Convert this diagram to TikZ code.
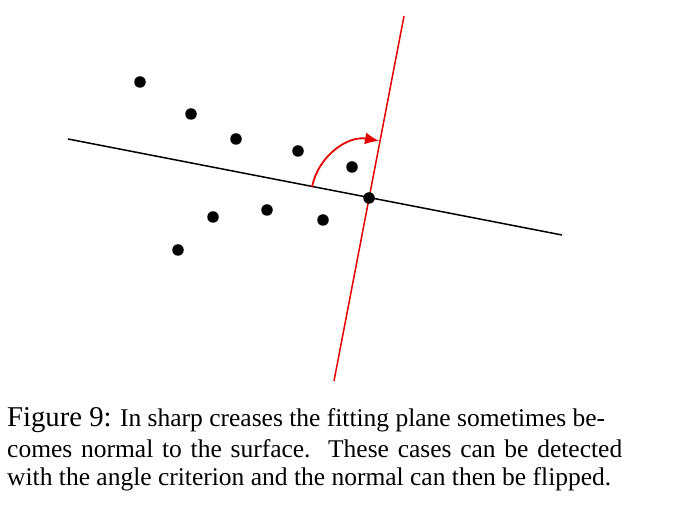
\documentclass[tikz,border=0pt]{standalone}
\usepackage{fontspec}
\setmainfont{Liberation Serif}
\tikzset{>=latex}
\usetikzlibrary{arrows.meta}

\begin{document}
\begin{tikzpicture}[x=1pt, y=-1pt]
    \useasboundingbox(0, 0)rectangle(694, 526);
    \tikzset{pt/.style={circle, fill=black, inner sep=0pt, minimum size=11.5pt},
        capline/.style={anchor=base west, inner sep=0pt, font=\fontsize{25.5}{30}\selectfont}}
    % points of the surface
    \foreach \px/\py [count=\i] in {140/82, 191/114, 236/139, 298/151, 352/167, 213/217, 267/210, 323/220, 178/250}
        \node[pt](p\i)at(\px, \py){};
    % fitting plane and normal
    \coordinate(pa)at(68, 139);
    \coordinate(pb)at(562, 235);
    \coordinate(na)at(404, 16);
    \coordinate(nb)at(334, 381);
    \coordinate(c)at(369, 198);
    \draw[line width=1.5pt](pa)--(pb);
    \draw[red!90!black, line width=1.5pt](na)--(nb);
    \node[pt]at(c){};
    \draw[red!90!black, line width=1.8pt, -{Latex[length=14pt, width=12pt]}](c)++(191:58)arc[start angle=191, end angle=280, radius=58];
    % caption
    \node[capline](l1)at(7, 427){{\fontsize{28.7}{30}\selectfont Figure 9:} In sharp creases the fitting plane sometimes be-};
    \node[capline](l2)at(7, 458){\hbox to 615pt{comes normal to the surface.\ \ These cases can be detected}};
    \node[capline](l3)at(7, 486){with the angle criterion and the normal can then be flipped.};
\end{tikzpicture}
\end{document}
